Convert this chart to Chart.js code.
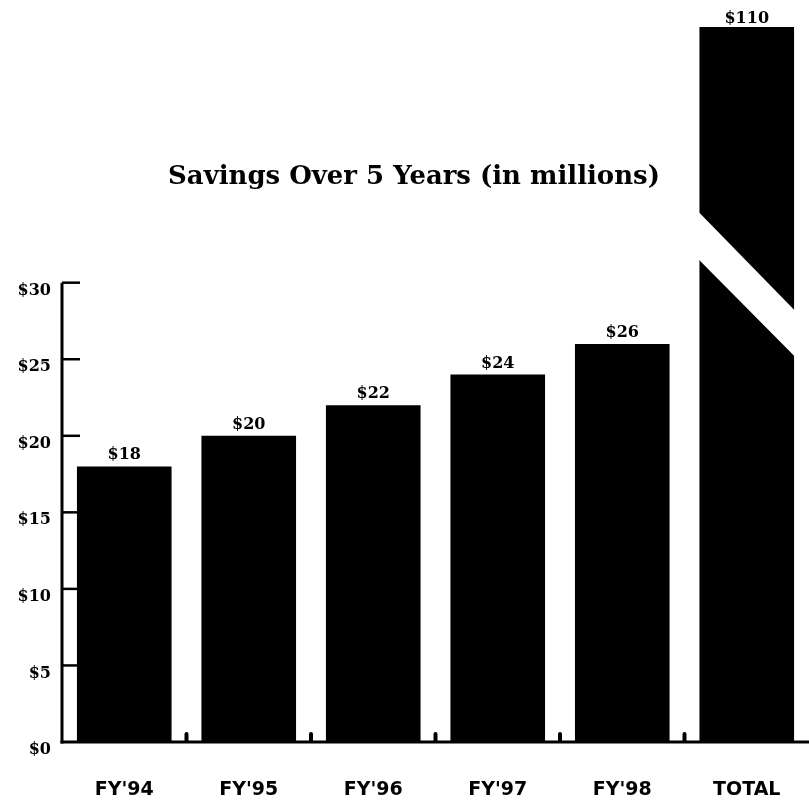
<!DOCTYPE html>
<html>
<head>
<meta charset="utf-8">
<script src="https://cdn.jsdelivr.net/npm/chart.js@4/dist/chart.umd.min.js"></script>
<style>
  html, body { margin: 0; padding: 0; background: #fff; }
  #wrap { width: 809px; height: 809px; }
</style>
</head>
<body>
<div id="wrap"><canvas id="c" width="809" height="809"></canvas></div>
<script>
const categories = ["FY'94", "FY'95", "FY'96", "FY'97", "FY'98", "TOTAL"];
const savings = [18, 20, 22, 24, 26, 110];
const valueLabels = ["$18", "$20", "$22", "$24", "$26", "$110"];
const yTickValues = [0, 5, 10, 15, 20, 25, 30];
const yTickLabels = ["$0", "$5", "$10", "$15", "$20", "$25", "$30"];
const chartTitle = "Savings Over 5 Years (in millions)";

const SERIF = "'DejaVu Serif', 'Liberation Serif', serif";
const SANS = "'DejaVu Sans', 'Liberation Sans', sans-serif";
const AXIS_TOP = 30;      // axis line drawn up to this value
const SCALE_MAX = 46.7;   // visible scale top (broken bar is clipped here)

const decorPlugin = {
  id: 'decor',
  afterDatasetsDraw(chart) {
    const ctx = chart.ctx;
    const y = chart.scales.y;
    const area = chart.chartArea;
    const meta = chart.getDatasetMeta(0);
    const y0 = y.getPixelForValue(0);
    const yTop = y.getPixelForValue(AXIS_TOP);
    ctx.save();

    // break band on the TOTAL bar
    const tb = meta.data[meta.data.length - 1];
    const bl = tb.x - tb.width / 2 - 2, br = tb.x + tb.width / 2 + 2;
    ctx.fillStyle = '#fff';
    ctx.beginPath();
    ctx.moveTo(bl, y.getPixelForValue(34.7));
    ctx.lineTo(br, y.getPixelForValue(28.1));
    ctx.lineTo(br, y.getPixelForValue(25.1));
    ctx.lineTo(bl, y.getPixelForValue(31.6));
    ctx.closePath();
    ctx.fill();

    ctx.strokeStyle = '#000';
    ctx.fillStyle = '#000';
    // y axis line
    ctx.lineWidth = 3;
    ctx.beginPath();
    ctx.moveTo(area.left, y0 + 1.5);
    ctx.lineTo(area.left, yTop);
    ctx.stroke();
    // y ticks (inward)
    ctx.lineWidth = 2.5;
    yTickValues.forEach(v => {
      if (v === 0) return;
      const py = y.getPixelForValue(v);
      ctx.beginPath();
      ctx.moveTo(area.left, py);
      ctx.lineTo(area.left + 18, py);
      ctx.stroke();
    });
    // x baseline
    ctx.lineWidth = 3;
    ctx.beginPath();
    ctx.moveTo(area.left - 1.5, y0);
    ctx.lineTo(area.right, y0);
    ctx.stroke();
    // small nubs between bars
    for (let i = 0; i < meta.data.length - 1; i++) {
      const cx = (meta.data[i].x + meta.data[i + 1].x) / 2;
      ctx.beginPath();
      ctx.moveTo(cx - 2, y0);
      ctx.lineTo(cx - 2, y0 - 8);
      ctx.arc(cx, y0 - 8, 2, Math.PI, 0);
      ctx.lineTo(cx + 2, y0);
      ctx.closePath();
      ctx.fill();
    }

    // value labels
    ctx.font = "bold 16px " + SERIF;
    ctx.textAlign = 'center';
    ctx.textBaseline = 'alphabetic';
    meta.data.forEach((bar, i) => {
      const top = Math.max(bar.y, area.top);
      ctx.fillText(valueLabels[i], bar.x, top - (bar.y < area.top ? 4 : 7));
    });

    // title, fitted to the reference width
    let fs = 26;
    ctx.font = "bold " + fs + "px " + SERIF;
    const w = ctx.measureText(chartTitle).width;
    fs = fs * 492 / w;
    ctx.font = "bold " + fs.toFixed(2) + "px " + SERIF;
    ctx.fillText(chartTitle, 414, 184);
    ctx.restore();
  }
};

new Chart(document.getElementById('c'), {
  type: 'bar',
  data: {
    labels: categories,
    datasets: [{
      data: savings,
      backgroundColor: '#000',
      borderWidth: 0,
      categoryPercentage: 1.0,
      barPercentage: 0.76
    }]
  },
  options: {
    responsive: false,
    animation: false,
    devicePixelRatio: 1,
    layout: { padding: { top: 27, left: 0, right: 0, bottom: 0 } },
    plugins: { legend: { display: false }, tooltip: { enabled: false }, title: { display: false } },
    scales: {
      x: {
        grid: { display: false, drawTicks: false },
        border: { display: false },
        ticks: {
          color: '#000',
          padding: 37,
          font: { family: SANS, size: 19, weight: 'bold', lineHeight: 1.2 }
        },
        afterFit(s) { s.height = 67; s.paddingLeft = 0; s.paddingRight = 0; }
      },
      y: {
        min: 0,
        max: SCALE_MAX,
        grid: { display: false, drawTicks: false },
        border: { display: false },
        afterBuildTicks(s) {
          s.ticks = yTickValues.map(v => ({ value: v }));
        },
        ticks: {
          color: '#000',
          padding: 11,
          font: { family: SERIF, size: 16, weight: 'bold', lineHeight: '16px' },
          callback(v) {
            const i = yTickValues.indexOf(v);
            return ['', i >= 0 ? yTickLabels[i] : ''];
          }
        },
        afterFit(s) { s.width = 62; s.paddingTop = 0; s.paddingBottom = 0; }
      }
    }
  },
  plugins: [decorPlugin]
});
</script>
</body>
</html>
